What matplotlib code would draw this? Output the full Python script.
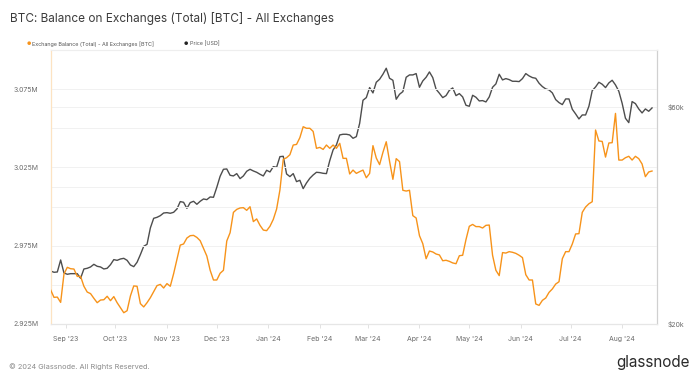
import numpy as np
import pandas as pd
import matplotlib
matplotlib.use("Agg")
import matplotlib.pyplot as plt
from matplotlib.ticker import FixedLocator, FuncFormatter, NullLocator
import matplotlib.dates as mdates

plt.rcParams["font.family"] = ["Inter", "DejaVu Sans"]

# 2-day samples, starting 2023-08-23
start_date = "2023-08-23"
step = "2D"

# exchange balance, million BTC
balance_m = [
    2.9467, 2.9420, 2.9422, 2.9388, 2.9569, 2.9612, 2.9603, 2.9601, 2.9554, 2.9554,
    2.9491, 2.9454, 2.9444, 2.9414, 2.9386, 2.9403, 2.9405, 2.9427, 2.9399, 2.9425,
    2.9386, 2.9354, 2.9322, 2.9335, 2.9429, 2.9493, 2.9491, 2.9380, 2.9359, 2.9386,
    2.9418, 2.9456, 2.9495, 2.9503, 2.9480, 2.9508, 2.9491, 2.9571, 2.9661, 2.9754,
    2.9761, 2.9799, 2.9814, 2.9816, 2.9803, 2.9782, 2.9733,
    2.9684, 2.9593, 2.9531, 2.9531, 2.9574, 2.9593, 2.9780, 2.9833, 2.9963, 2.9982,
    2.9991, 2.9993, 2.9976, 2.9999, 2.9904, 2.9921, 2.9880, 2.9850, 2.9846, 2.9874,
    2.9918, 2.9984, 3.0106, 3.0302, 3.0312, 3.0331, 3.0393, 3.0397, 3.0440, 3.0510,
    3.0500, 3.0500, 3.0480, 3.0372, 3.0378, 3.0365, 3.0393, 3.0372, 3.0393, 3.0372,
    3.0404, 3.0308, 3.0308, 3.0208, 3.0233, 3.0212, 3.0223,
    3.0233, 3.0184, 3.0212, 3.0389, 3.0310, 3.0268, 3.0346, 3.0414, 3.0289, 3.0174,
    3.0306, 3.0287, 3.0104, 3.0099, 3.0104, 2.9942, 2.9927, 2.9814, 2.9763, 2.9667,
    2.9716, 2.9710, 2.9697, 2.9691, 2.9654, 2.9657, 2.9650, 2.9640, 2.9635, 2.9686,
    2.9689, 2.9789, 2.9874, 2.9886, 2.9872, 2.9872, 2.9863, 2.9880, 2.9882, 2.9689,
    2.9593, 2.9559, 2.9706, 2.9703, 2.9712, 2.9708,
    2.9701, 2.9689, 2.9674, 2.9565, 2.9531, 2.9531, 2.9378, 2.9369, 2.9401, 2.9416,
    2.9452, 2.9474, 2.9505, 2.9520, 2.9667, 2.9712, 2.9712, 2.9761, 2.9825, 2.9827,
    2.9963, 2.9997, 3.0018, 3.0031, 3.0489, 3.0419, 3.0416, 3.0316, 3.0406, 3.0408,
    3.0595, 3.0297, 3.0297, 3.0312, 3.0321, 3.0297, 3.0321, 3.0306, 3.0272, 3.0191,
    3.0221, 3.0227,
]

# BTC price, thousand USD
price_k = [
    26.15, 25.98, 26.02, 27.65, 25.89, 25.72, 25.80, 25.80, 25.80, 25.20,
    26.42, 26.51, 26.69, 27.05, 26.78, 26.69, 26.42, 26.51, 27.00, 27.70,
    27.60, 27.79, 27.88, 27.60, 26.96, 26.73, 27.33, 28.41, 29.63, 29.93,
    32.51, 34.14, 34.31, 34.60, 35.07, 35.13, 35.02, 35.19, 35.79, 37.15,
    37.02, 35.91, 36.96, 37.21, 36.65, 37.21, 37.65,
    37.52, 38.03, 37.97, 39.94, 42.23, 43.75, 43.82, 42.44, 42.30, 42.80,
    41.73, 42.30, 43.31, 43.75, 43.38, 43.09, 42.66, 42.30, 43.53, 43.16,
    44.34, 44.20, 46.64, 46.72, 42.73, 42.16, 42.80, 41.10, 41.38, 39.67,
    40.83, 41.80, 42.51, 43.09, 43.02, 42.87, 42.80, 45.71, 48.25, 49.48,
    52.05, 52.23, 52.23, 52.05, 51.18, 51.61, 55.21,
    62.03, 62.87, 66.14, 64.38, 67.95, 68.99, 70.76, 72.94, 69.33, 68.64,
    62.35, 63.95, 64.81, 69.69, 70.52, 70.52, 71.00, 66.25, 68.41, 69.69,
    71.60, 69.57, 65.59, 64.27, 62.87, 63.51, 65.25, 66.03, 63.51, 64.16,
    63.09, 60.48, 60.18, 63.62, 62.98, 61.82, 61.93, 61.51, 63.09, 66.25,
    67.38, 70.76, 68.76, 69.22, 68.87, 68.29,
    68.29, 68.18, 69.22, 71.00, 70.16, 69.57, 69.33, 67.61, 66.48, 65.70,
    65.36, 64.38, 62.24, 61.30, 60.69, 62.45, 62.45, 59.27, 57.89, 56.44,
    57.59, 57.59, 60.18, 65.14, 66.36, 67.95, 67.27, 66.14, 67.72, 68.64,
    67.04, 64.93, 61.10, 56.63, 55.40, 61.62, 60.99, 59.37, 58.18, 59.37,
    58.67, 59.67,
]

dates = pd.date_range(start_date, periods=len(balance_m), freq=step)

left_ticks = [2.925, 2.975, 3.025, 3.075]
right_ticks = [20, 60]

orange = "#f7931a"
dark = "#3a3a3a"
label_col = "#6b6b6b"

fig = plt.figure(figsize=(7, 3.77), dpi=100)
ax = fig.add_axes([0.0724, 0.1406, 0.8662, 0.7268])
ax2 = ax.twinx()

ax.plot(dates, balance_m, color=orange, lw=1.0, zorder=3)
ax2.plot(dates, price_k, color=dark, lw=1.0, alpha=0.9, zorder=3)

ax.set_zorder(ax2.get_zorder() + 1)
ax.patch.set_visible(False)

ax.set_xlim(pd.Timestamp("2023-08-23"), pd.Timestamp("2024-08-22"))
ax.set_ylim(2.925, 3.1)
ax2.set_yscale("log")
ax2.set_ylim(20, 80)

# left axis: gridlines every 25k BTC, labels every 50k
ax.yaxis.set_major_locator(FixedLocator(np.arange(2.925, 3.101, 0.025)))
ax.yaxis.set_major_formatter(FuncFormatter(
    lambda v, p: f"{v:.3f}M" if any(abs(v - t) < 1e-6 for t in left_ticks) else ""))
ax.grid(axis="y", color="#f1f1f1", lw=0.7)
ax.tick_params(axis="y", length=0, pad=9, labelsize=5, labelcolor=label_col)

ax2.yaxis.set_major_locator(FixedLocator([20, 40, 60]))
ax2.yaxis.set_minor_locator(NullLocator())
ax2.yaxis.set_major_formatter(FuncFormatter(
    lambda v, p: f"${v:.0f}k" if round(v) in right_ticks else ""))
ax2.grid(axis="y", color="#f1f1f1", lw=0.7)
ax2.tick_params(axis="y", length=0, pad=8, labelsize=5, labelcolor=label_col)

ax.xaxis.set_major_locator(mdates.MonthLocator())
ax.xaxis.set_major_formatter(mdates.DateFormatter("%b '%y"))
ax.tick_params(axis="x", length=3, width=0.6, color="#dddddd", pad=6,
               labelsize=5, labelcolor=label_col)

for a in (ax, ax2):
    a.spines["top"].set_color("#eeeeee")
    a.spines["bottom"].set_color("#e6e6e6")
    a.spines["left"].set_color("#fde3c2")
    a.spines["right"].set_color("#d0d0d0")
    for s in a.spines.values():
        s.set_linewidth(0.8)

fig.text(0.014, 0.968, "BTC: Balance on Exchanges (Total) [BTC] - All Exchanges",
         fontsize=8.5, color="#3c3c3c", va="top", ha="left")

# legend
fig.text(0.0385, 0.884, "\u25cf", fontsize=3.5, color=orange, va="center", ha="left")
fig.text(0.046, 0.884, "Exchange Balance (Total) - All Exchanges [BTC]",
         fontsize=3.9, color="#555555", va="center", ha="left")
fig.text(0.263, 0.884, "\u25cf", fontsize=3.5, color="#222222", va="center", ha="left")
fig.text(0.271, 0.884, "Price [USD]", fontsize=3.9, color="#555555",
         va="center", ha="left")

fig.text(0.013, 0.028, "\u00a9 2024 Glassnode. All Rights Reserved.",
         fontsize=5.3, color="#8a8a8a", va="center", ha="left")
fig.text(0.986, 0.038, "glassnode", fontsize=11, color="#2a2a2a",
         va="center", ha="right")

fig.savefig("out.png", dpi=100, facecolor="white")
